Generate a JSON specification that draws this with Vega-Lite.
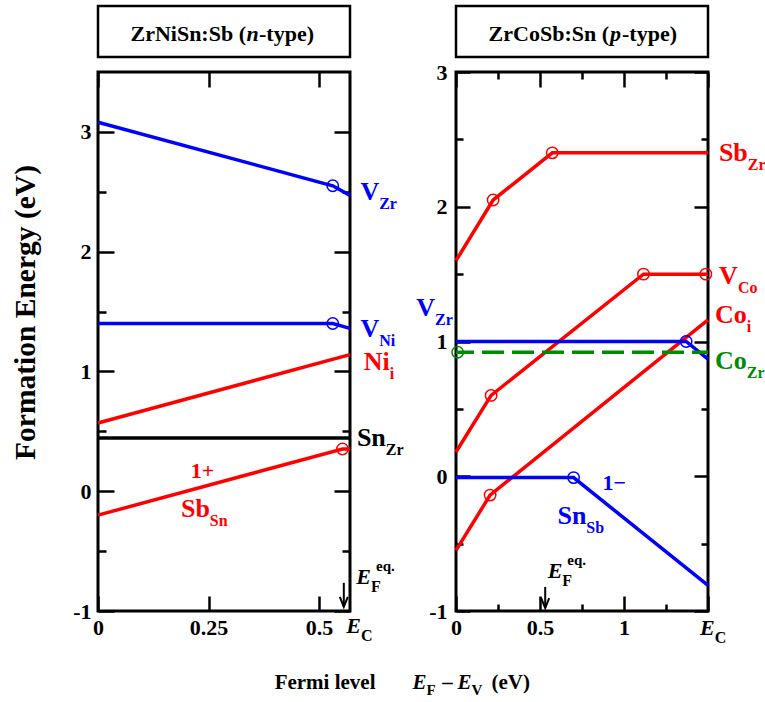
{
  "$schema": "https://vega.github.io/schema/vega-lite/v6.json",
  "padding": {"left": 8, "top": 4, "right": 0, "bottom": 0},
  "background": "white",
  "datasets": {
    "left_lines": [
      {"defect": "V_Zr", "x": 0, "y": 3.08}, {"defect": "V_Zr", "x": 0.531, "y": 2.55}, {"defect": "V_Zr", "x": 0.57, "y": 2.47},
      {"defect": "V_Ni", "x": 0, "y": 1.40}, {"defect": "V_Ni", "x": 0.531, "y": 1.40}, {"defect": "V_Ni", "x": 0.57, "y": 1.36},
      {"defect": "Ni_i", "x": 0, "y": 0.57}, {"defect": "Ni_i", "x": 0.57, "y": 1.14},
      {"defect": "Sn_Zr", "x": 0, "y": 0.445}, {"defect": "Sn_Zr", "x": 0.57, "y": 0.445},
      {"defect": "Sb_Sn", "x": 0, "y": -0.2}, {"defect": "Sb_Sn", "x": 0.553, "y": 0.353}, {"defect": "Sb_Sn", "x": 0.57, "y": 0.353}
    ],
    "left_levels": [
      {"defect": "V_Zr", "x": 0.531, "y": 2.55},
      {"defect": "V_Ni", "x": 0.531, "y": 1.40},
      {"defect": "Sb_Sn", "x": 0.553, "y": 0.353}
    ],
    "left_names": [
      {"defect": "V_Zr", "main": "V", "sub": "Zr", "x": 0.636, "y": 2.432},
      {"defect": "V_Ni", "main": "V", "sub": "Ni", "x": 0.636, "y": 1.288},
      {"defect": "Ni_i", "main": "Ni", "sub": "i", "x": 0.660, "y": 1.01},
      {"defect": "Sn_Zr", "main": "Sn", "sub": "Zr", "x": 0.651, "y": 0.378},
      {"defect": "Sb_Sn", "main": "Sb", "sub": "Sn", "x": 0.253, "y": -0.215}
    ],
    "left_charges": [
      {"defect": "Sb_Sn", "text": "1+", "x": 0.210, "y": 0.111}
    ],
    "left_edges": [
      {"main": "E", "sub": "F", "sup": "eq.", "x": 0.6175, "y": -0.774},
      {"main": "E", "sub": "C", "sup": "", "x": 0.595, "y": -1.183}
    ],
    "left_arrow": [{"x": 0.556, "y_top": -0.765, "y_tip": -0.966}],
    "right_lines": [
      {"defect": "Sb_Zr", "x": 0, "y": 1.6}, {"defect": "Sb_Zr", "x": 0.221, "y": 2.05}, {"defect": "Sb_Zr", "x": 0.573, "y": 2.40}, {"defect": "Sb_Zr", "x": 1.5, "y": 2.40},
      {"defect": "V_Co", "x": 0, "y": 0.18}, {"defect": "V_Co", "x": 0.209, "y": 0.60}, {"defect": "V_Co", "x": 1.116, "y": 1.50}, {"defect": "V_Co", "x": 1.5, "y": 1.50},
      {"defect": "Co_i", "x": 0, "y": -0.55}, {"defect": "Co_i", "x": 0.203, "y": -0.14}, {"defect": "Co_i", "x": 1.5, "y": 1.16},
      {"defect": "V_Zr", "x": 0, "y": 1.0}, {"defect": "V_Zr", "x": 1.37, "y": 1.0}, {"defect": "V_Zr", "x": 1.5, "y": 0.87},
      {"defect": "Sn_Sb", "x": 0, "y": -0.01}, {"defect": "Sn_Sb", "x": 0.70, "y": -0.01}, {"defect": "Sn_Sb", "x": 1.5, "y": -0.81}
    ],
    "right_dashed": [
      {"defect": "Co_Zr", "x": 0, "y": 0.92}, {"defect": "Co_Zr", "x": 1.5, "y": 0.92}
    ],
    "right_levels": [
      {"defect": "Sb_Zr", "x": 0.221, "y": 2.05},
      {"defect": "Sb_Zr", "x": 0.573, "y": 2.40},
      {"defect": "V_Co", "x": 0.209, "y": 0.60},
      {"defect": "V_Co", "x": 1.116, "y": 1.50},
      {"defect": "V_Co", "x": 1.487, "y": 1.50},
      {"defect": "Co_i", "x": 0.203, "y": -0.14},
      {"defect": "V_Zr", "x": 1.37, "y": 1.0},
      {"defect": "Co_Zr", "x": 0.01, "y": 0.92},
      {"defect": "Sn_Sb", "x": 0.70, "y": -0.01}
    ],
    "right_names": [
      {"defect": "Sb_Zr", "main": "Sb", "sub": "Zr", "x": 1.737, "y": 2.341},
      {"defect": "V_Co", "main": "V", "sub": "Co", "x": 1.678, "y": 1.43},
      {"defect": "Co_i", "main": "Co", "sub": "i", "x": 1.731, "y": 1.141},
      {"defect": "Co_Zr", "main": "Co", "sub": "Zr", "x": 1.731, "y": 0.793},
      {"defect": "V_Zr", "main": "V", "sub": "Zr", "x": -0.125, "y": 1.19},
      {"defect": "Sn_Sb", "main": "Sn", "sub": "Sb", "x": 0.776, "y": -0.356}
    ],
    "right_charges": [
      {"defect": "Sn_Sb", "text": "1−", "x": 0.872, "y": -0.104}
    ],
    "right_edges": [
      {"main": "E", "sub": "F", "sup": "eq.", "x": 0.633, "y": -0.756},
      {"main": "E", "sub": "C", "sup": "", "x": 1.540, "y": -1.178}
    ],
    "right_arrow": [{"x": 0.531, "y_top": -0.822, "y_tip": -0.978}]
  },
  "vconcat": [
    {
      "hconcat": [
        {
          "vconcat": [
            {
              "width": 252,
              "height": 51,
              "view": {"stroke": "black", "strokeWidth": 2.5},
              "data": {"values": [{"head": "ZrNiSn:Sb (", "carrier": "n", "tail": "-type)"}]},
              "layer": [
                {"mark": {"type": "text", "font": "Liberation Serif", "fontWeight": "bold", "align": "right", "baseline": "alphabetic", "fontSize": 22, "dx": 22, "dy": 9}, "encoding": {"text": {"field": "head"}}},
                {"mark": {"type": "text", "font": "Liberation Serif", "fontWeight": "bold", "align": "center", "baseline": "alphabetic", "fontSize": 22, "fontStyle": "italic", "dx": 28.5, "dy": 9}, "encoding": {"text": {"field": "carrier"}}},
                {"mark": {"type": "text", "font": "Liberation Serif", "fontWeight": "bold", "align": "left", "baseline": "alphabetic", "fontSize": 22, "dx": 35, "dy": 9}, "encoding": {"text": {"field": "tail"}}}
              ]
            },
            {
              "width": 252,
              "height": 539,
              "view": {"stroke": "black", "strokeWidth": 3},
              "resolve": {"axis": {"x": "independent", "y": "independent"}},
              "layer": [
                {
                  "data": {"name": "left_lines"},
                  "mark": {"type": "line", "strokeWidth": 3.5},
                  "encoding": {
                    "x": {"field": "x", "type": "quantitative", "scale": {"domain": [0, 0.57], "nice": false, "zero": false},
                      "axis": {"orient": "bottom", "values": [0, 0.25, 0.5], "tickSize": -15, "labelPadding": 21, "labelExpr": "'' + datum.value", "title": null}},
                    "y": {"field": "y", "type": "quantitative", "scale": {"domain": [-1, 3.5], "nice": false, "zero": false},
                      "axis": {"orient": "left", "values": [-1, 0, 1, 2, 3], "tickSize": -16, "labelPadding": 23, "labelExpr": "'' + datum.value",
                        "title": "Formation Energy (eV)", "titleFontSize": 29.5, "titleAngle": 270, "titleBaseline": "bottom", "titleAlign": "center", "titleX": -58, "titleY": 240}},
                    "color": {"field": "defect", "type": "nominal", "legend": null,
                      "scale": {"domain": ["V_Zr", "V_Ni", "Ni_i", "Sn_Zr", "Sb_Sn", "Sb_Zr", "V_Co", "Co_i", "Co_Zr", "Sn_Sb"], "range": ["#0000ff", "#0000ff", "#ff0000", "#000000", "#ff0000", "#ff0000", "#ff0000", "#ff0000", "#008c00", "#0000ff"]}}
                  }
                },
                {
                  "data": {"name": "left_levels"},
                  "mark": {"type": "point", "shape": "circle", "filled": false, "size": 130, "strokeWidth": 1.5, "opacity": 1},
                  "encoding": {
                    "x": {"field": "x", "type": "quantitative",
                      "axis": {"orient": "top", "values": [0, 0.25, 0.5], "tickSize": -15, "labels": false, "title": null}},
                    "y": {"field": "y", "type": "quantitative",
                      "axis": {"orient": "left", "values": [-0.5, 0.5, 1.5, 2.5], "tickSize": -8, "labels": false, "title": null}},
                    "color": {"field": "defect", "type": "nominal", "legend": null,
                      "scale": {"domain": ["V_Zr", "V_Ni", "Ni_i", "Sn_Zr", "Sb_Sn", "Sb_Zr", "V_Co", "Co_i", "Co_Zr", "Sn_Sb"], "range": ["#0000ff", "#0000ff", "#ff0000", "#000000", "#ff0000", "#ff0000", "#ff0000", "#ff0000", "#008c00", "#0000ff"]}}
                  }
                },
                {
                  "data": {"name": "left_names"},
                  "mark": {"type": "text", "font": "Liberation Serif", "fontWeight": "bold", "align": "right", "baseline": "alphabetic", "fontSize": 26},
                  "encoding": {
                    "x": {"field": "x", "type": "quantitative", "axis": null},
                    "y": {"field": "y", "type": "quantitative",
                      "axis": {"orient": "right", "values": [-1, 0, 1, 2, 3], "tickSize": -16, "labels": false, "title": null}},
                    "text": {"field": "main"},
                    "color": {"field": "defect", "type": "nominal", "legend": null,
                      "scale": {"domain": ["V_Zr", "V_Ni", "Ni_i", "Sn_Zr", "Sb_Sn", "Sb_Zr", "V_Co", "Co_i", "Co_Zr", "Sn_Sb"], "range": ["#0000ff", "#0000ff", "#ff0000", "#000000", "#ff0000", "#ff0000", "#ff0000", "#ff0000", "#008c00", "#0000ff"]}}
                  }
                },
                {
                  "data": {"name": "left_names"},
                  "mark": {"type": "text", "font": "Liberation Serif", "fontWeight": "bold", "align": "left", "baseline": "alphabetic", "fontSize": 16, "dy": 9},
                  "encoding": {
                    "x": {"field": "x", "type": "quantitative", "axis": null},
                    "y": {"field": "y", "type": "quantitative",
                      "axis": {"orient": "right", "values": [-0.5, 0.5, 1.5, 2.5], "tickSize": -8, "labels": false, "title": null}},
                    "text": {"field": "sub"},
                    "color": {"field": "defect", "type": "nominal", "legend": null,
                      "scale": {"domain": ["V_Zr", "V_Ni", "Ni_i", "Sn_Zr", "Sb_Sn", "Sb_Zr", "V_Co", "Co_i", "Co_Zr", "Sn_Sb"], "range": ["#0000ff", "#0000ff", "#ff0000", "#000000", "#ff0000", "#ff0000", "#ff0000", "#ff0000", "#008c00", "#0000ff"]}}
                  }
                },
                {
                  "data": {"name": "left_charges"},
                  "mark": {"type": "text", "font": "Liberation Serif", "fontWeight": "bold", "align": "left", "baseline": "alphabetic", "fontSize": 22},
                  "encoding": {
                    "x": {"field": "x", "type": "quantitative", "axis": null},
                    "y": {"field": "y", "type": "quantitative", "axis": null},
                    "text": {"field": "text"},
                    "color": {"field": "defect", "type": "nominal", "legend": null,
                      "scale": {"domain": ["V_Zr", "V_Ni", "Ni_i", "Sn_Zr", "Sb_Sn", "Sb_Zr", "V_Co", "Co_i", "Co_Zr", "Sn_Sb"], "range": ["#0000ff", "#0000ff", "#ff0000", "#000000", "#ff0000", "#ff0000", "#ff0000", "#ff0000", "#008c00", "#0000ff"]}}
                  }
                },
                {
                  "data": {"name": "left_edges"},
                  "mark": {"type": "text", "font": "Liberation Serif", "fontWeight": "bold", "align": "right", "baseline": "alphabetic", "fontSize": 22, "fontStyle": "italic", "color": "black"},
                  "encoding": {
                    "x": {"field": "x", "type": "quantitative", "axis": null},
                    "y": {"field": "y", "type": "quantitative", "axis": null},
                    "text": {"field": "main"}
                  }
                },
                {
                  "data": {"name": "left_edges"},
                  "mark": {"type": "text", "font": "Liberation Serif", "fontWeight": "bold", "align": "left", "baseline": "alphabetic", "fontSize": 16, "dy": 8, "color": "black"},
                  "encoding": {
                    "x": {"field": "x", "type": "quantitative", "axis": null},
                    "y": {"field": "y", "type": "quantitative", "axis": null},
                    "text": {"field": "sub"}
                  }
                },
                {
                  "data": {"name": "left_edges"},
                  "mark": {"type": "text", "font": "Liberation Serif", "fontWeight": "bold", "align": "left", "baseline": "alphabetic", "fontSize": 15, "dx": 5, "dy": -13, "color": "black"},
                  "encoding": {
                    "x": {"field": "x", "type": "quantitative", "axis": null},
                    "y": {"field": "y", "type": "quantitative", "axis": null},
                    "text": {"field": "sup"}
                  }
                },
                {
                  "data": {"name": "left_arrow"},
                  "mark": {"type": "rule", "strokeWidth": 2, "color": "black"},
                  "encoding": {
                    "x": {"field": "x", "type": "quantitative", "axis": null},
                    "y": {"field": "y_top", "type": "quantitative", "axis": null},
                    "y2": {"field": "y_tip"}
                  }
                },
                {
                  "data": {"name": "left_arrow"},
                  "mark": {"type": "point", "shape": "M-0.4,-1L0,0L0.4,-1", "filled": false, "size": 400, "strokeWidth": 2, "color": "black", "opacity": 1},
                  "encoding": {
                    "x": {"field": "x", "type": "quantitative", "axis": null},
                    "y": {"field": "y_tip", "type": "quantitative", "axis": null}
                  }
                }
              ]
            }
          ],
          "spacing": 15,
          "bounds": "flush"
        },
        {
          "vconcat": [
            {
              "width": 252,
              "height": 51,
              "view": {"stroke": "black", "strokeWidth": 2.5},
              "data": {"values": [{"head": "ZrCoSb:Sn (", "carrier": "p", "tail": "-type)"}]},
              "layer": [
                {"mark": {"type": "text", "font": "Liberation Serif", "fontWeight": "bold", "align": "right", "baseline": "alphabetic", "fontSize": 22, "dx": 27, "dy": 9}, "encoding": {"text": {"field": "head"}}},
                {"mark": {"type": "text", "font": "Liberation Serif", "fontWeight": "bold", "align": "center", "baseline": "alphabetic", "fontSize": 22, "fontStyle": "italic", "dx": 33.5, "dy": 9}, "encoding": {"text": {"field": "carrier"}}},
                {"mark": {"type": "text", "font": "Liberation Serif", "fontWeight": "bold", "align": "left", "baseline": "alphabetic", "fontSize": 22, "dx": 40, "dy": 9}, "encoding": {"text": {"field": "tail"}}}
              ]
            },
            {
              "width": 252,
              "height": 539,
              "view": {"stroke": "black", "strokeWidth": 3},
              "resolve": {"axis": {"x": "independent", "y": "independent"}},
              "layer": [
                {
                  "data": {"name": "right_lines"},
                  "mark": {"type": "line", "strokeWidth": 3.5},
                  "encoding": {
                    "x": {"field": "x", "type": "quantitative", "scale": {"domain": [0, 1.5], "nice": false, "zero": false},
                      "axis": {"orient": "bottom", "values": [0, 0.5, 1, 1.5], "tickSize": -15, "labelPadding": 21, "labelExpr": "datum.value == 1.5 ? '' : '' + datum.value", "title": null}},
                    "y": {"field": "y", "type": "quantitative", "scale": {"domain": [-1, 3], "nice": false, "zero": false},
                      "axis": {"orient": "left", "values": [-1, 0, 1, 2, 3], "tickSize": -14, "labelPadding": 23, "labelExpr": "'' + datum.value", "title": null}},
                    "color": {"field": "defect", "type": "nominal", "legend": null,
                      "scale": {"domain": ["V_Zr", "V_Ni", "Ni_i", "Sn_Zr", "Sb_Sn", "Sb_Zr", "V_Co", "Co_i", "Co_Zr", "Sn_Sb"], "range": ["#0000ff", "#0000ff", "#ff0000", "#000000", "#ff0000", "#ff0000", "#ff0000", "#ff0000", "#008c00", "#0000ff"]}}
                  }
                },
                {
                  "data": {"name": "right_dashed"},
                  "mark": {"type": "line", "strokeWidth": 3.5, "strokeDash": [22, 8], "strokeDashOffset": 4},
                  "encoding": {
                    "x": {"field": "x", "type": "quantitative",
                      "axis": {"orient": "bottom", "values": [0.25, 0.75, 1.25], "tickSize": -7, "labels": false, "title": null}},
                    "y": {"field": "y", "type": "quantitative",
                      "axis": {"orient": "left", "values": [-0.5, 0.5, 1.5, 2.5], "tickSize": -7, "labels": false, "title": null}},
                    "color": {"field": "defect", "type": "nominal", "legend": null,
                      "scale": {"domain": ["V_Zr", "V_Ni", "Ni_i", "Sn_Zr", "Sb_Sn", "Sb_Zr", "V_Co", "Co_i", "Co_Zr", "Sn_Sb"], "range": ["#0000ff", "#0000ff", "#ff0000", "#000000", "#ff0000", "#ff0000", "#ff0000", "#ff0000", "#008c00", "#0000ff"]}}
                  }
                },
                {
                  "data": {"name": "right_levels"},
                  "mark": {"type": "point", "shape": "circle", "filled": false, "size": 130, "strokeWidth": 1.5, "opacity": 1},
                  "encoding": {
                    "x": {"field": "x", "type": "quantitative",
                      "axis": {"orient": "top", "values": [0, 0.5, 1, 1.5], "tickSize": -15, "labels": false, "title": null}},
                    "y": {"field": "y", "type": "quantitative",
                      "axis": {"orient": "right", "values": [-1, 0, 1, 2, 3], "tickSize": -14, "labels": false, "title": null}},
                    "color": {"field": "defect", "type": "nominal", "legend": null,
                      "scale": {"domain": ["V_Zr", "V_Ni", "Ni_i", "Sn_Zr", "Sb_Sn", "Sb_Zr", "V_Co", "Co_i", "Co_Zr", "Sn_Sb"], "range": ["#0000ff", "#0000ff", "#ff0000", "#000000", "#ff0000", "#ff0000", "#ff0000", "#ff0000", "#008c00", "#0000ff"]}}
                  }
                },
                {
                  "data": {"name": "right_names"},
                  "mark": {"type": "text", "font": "Liberation Serif", "fontWeight": "bold", "align": "right", "baseline": "alphabetic", "fontSize": 26},
                  "encoding": {
                    "x": {"field": "x", "type": "quantitative",
                      "axis": {"orient": "top", "values": [0.25, 0.75, 1.25], "tickSize": -7, "labels": false, "title": null}},
                    "y": {"field": "y", "type": "quantitative",
                      "axis": {"orient": "right", "values": [-0.5, 0.5, 1.5, 2.5], "tickSize": -7, "labels": false, "title": null}},
                    "text": {"field": "main"},
                    "color": {"field": "defect", "type": "nominal", "legend": null,
                      "scale": {"domain": ["V_Zr", "V_Ni", "Ni_i", "Sn_Zr", "Sb_Sn", "Sb_Zr", "V_Co", "Co_i", "Co_Zr", "Sn_Sb"], "range": ["#0000ff", "#0000ff", "#ff0000", "#000000", "#ff0000", "#ff0000", "#ff0000", "#ff0000", "#008c00", "#0000ff"]}}
                  }
                },
                {
                  "data": {"name": "right_names"},
                  "mark": {"type": "text", "font": "Liberation Serif", "fontWeight": "bold", "align": "left", "baseline": "alphabetic", "fontSize": 16, "dy": 9},
                  "encoding": {
                    "x": {"field": "x", "type": "quantitative", "axis": null},
                    "y": {"field": "y", "type": "quantitative", "axis": null},
                    "text": {"field": "sub"},
                    "color": {"field": "defect", "type": "nominal", "legend": null,
                      "scale": {"domain": ["V_Zr", "V_Ni", "Ni_i", "Sn_Zr", "Sb_Sn", "Sb_Zr", "V_Co", "Co_i", "Co_Zr", "Sn_Sb"], "range": ["#0000ff", "#0000ff", "#ff0000", "#000000", "#ff0000", "#ff0000", "#ff0000", "#ff0000", "#008c00", "#0000ff"]}}
                  }
                },
                {
                  "data": {"name": "right_charges"},
                  "mark": {"type": "text", "font": "Liberation Serif", "fontWeight": "bold", "align": "left", "baseline": "alphabetic", "fontSize": 22},
                  "encoding": {
                    "x": {"field": "x", "type": "quantitative", "axis": null},
                    "y": {"field": "y", "type": "quantitative", "axis": null},
                    "text": {"field": "text"},
                    "color": {"field": "defect", "type": "nominal", "legend": null,
                      "scale": {"domain": ["V_Zr", "V_Ni", "Ni_i", "Sn_Zr", "Sb_Sn", "Sb_Zr", "V_Co", "Co_i", "Co_Zr", "Sn_Sb"], "range": ["#0000ff", "#0000ff", "#ff0000", "#000000", "#ff0000", "#ff0000", "#ff0000", "#ff0000", "#008c00", "#0000ff"]}}
                  }
                },
                {
                  "data": {"name": "right_edges"},
                  "mark": {"type": "text", "font": "Liberation Serif", "fontWeight": "bold", "align": "right", "baseline": "alphabetic", "fontSize": 22, "fontStyle": "italic", "color": "black"},
                  "encoding": {
                    "x": {"field": "x", "type": "quantitative", "axis": null},
                    "y": {"field": "y", "type": "quantitative", "axis": null},
                    "text": {"field": "main"}
                  }
                },
                {
                  "data": {"name": "right_edges"},
                  "mark": {"type": "text", "font": "Liberation Serif", "fontWeight": "bold", "align": "left", "baseline": "alphabetic", "fontSize": 16, "dy": 8, "color": "black"},
                  "encoding": {
                    "x": {"field": "x", "type": "quantitative", "axis": null},
                    "y": {"field": "y", "type": "quantitative", "axis": null},
                    "text": {"field": "sub"}
                  }
                },
                {
                  "data": {"name": "right_edges"},
                  "mark": {"type": "text", "font": "Liberation Serif", "fontWeight": "bold", "align": "left", "baseline": "alphabetic", "fontSize": 15, "dx": 5, "dy": -13, "color": "black"},
                  "encoding": {
                    "x": {"field": "x", "type": "quantitative", "axis": null},
                    "y": {"field": "y", "type": "quantitative", "axis": null},
                    "text": {"field": "sup"}
                  }
                },
                {
                  "data": {"name": "right_arrow"},
                  "mark": {"type": "rule", "strokeWidth": 2, "color": "black"},
                  "encoding": {
                    "x": {"field": "x", "type": "quantitative", "axis": null},
                    "y": {"field": "y_top", "type": "quantitative", "axis": null},
                    "y2": {"field": "y_tip"}
                  }
                },
                {
                  "data": {"name": "right_arrow"},
                  "mark": {"type": "point", "shape": "M-0.4,-1L0,0L0.4,-1", "filled": false, "size": 400, "strokeWidth": 2, "color": "black", "opacity": 1},
                  "encoding": {
                    "x": {"field": "x", "type": "quantitative", "axis": null},
                    "y": {"field": "y_tip", "type": "quantitative", "axis": null}
                  }
                }
              ]
            }
          ],
          "spacing": 15,
          "bounds": "flush"
        }
      ],
      "spacing": 358,
      "bounds": "flush"
    },
    {
      "width": 611,
      "height": 20,
      "data": {"values": [{"words": "Fermi level", "e1": "E", "s1": "F", "minus": "–", "e2": "E", "s2": "V", "unit": "(eV)"}]},
      "layer": [
        {"mark": {"type": "text", "font": "Liberation Serif", "fontWeight": "bold", "align": "right", "baseline": "alphabetic", "fontSize": 21, "dx": -28}, "encoding": {"text": {"field": "words"}}},
        {"mark": {"type": "text", "font": "Liberation Serif", "fontWeight": "bold", "align": "right", "baseline": "alphabetic", "fontSize": 21, "fontStyle": "italic", "dx": 23}, "encoding": {"text": {"field": "e1"}}},
        {"mark": {"type": "text", "font": "Liberation Serif", "fontWeight": "bold", "align": "left", "baseline": "alphabetic", "fontSize": 15, "dx": 23, "dy": 6}, "encoding": {"text": {"field": "s1"}}},
        {"mark": {"type": "text", "font": "Liberation Serif", "fontWeight": "bold", "align": "center", "baseline": "alphabetic", "fontSize": 21, "dx": 44}, "encoding": {"text": {"field": "minus"}}},
        {"mark": {"type": "text", "font": "Liberation Serif", "fontWeight": "bold", "align": "right", "baseline": "alphabetic", "fontSize": 21, "fontStyle": "italic", "dx": 68}, "encoding": {"text": {"field": "e2"}}},
        {"mark": {"type": "text", "font": "Liberation Serif", "fontWeight": "bold", "align": "left", "baseline": "alphabetic", "fontSize": 15, "dx": 68, "dy": 6}, "encoding": {"text": {"field": "s2"}}},
        {"mark": {"type": "text", "font": "Liberation Serif", "fontWeight": "bold", "align": "left", "baseline": "alphabetic", "fontSize": 21, "dx": 88}, "encoding": {"text": {"field": "unit"}}}
      ]
    }
  ],
  "spacing": 673,
  "bounds": "flush",
  "config": {
    "font": "Liberation Serif",
    "view": {"stroke": null},
    "text": {"font": "Liberation Serif", "fontWeight": "bold", "color": "black"},
    "axis": {
      "domain": false,
      "grid": false,
      "tickColor": "black",
      "tickWidth": 2.5,
      "labelFont": "Liberation Serif",
      "labelFontSize": 22,
      "labelFontWeight": "bold",
      "labelColor": "black",
      "labelFlush": false,
      "labelOverlap": false,
      "labelBound": false,
      "titleFont": "Liberation Serif",
      "titleFontWeight": "bold",
      "titleColor": "black"
    }
  }
}
